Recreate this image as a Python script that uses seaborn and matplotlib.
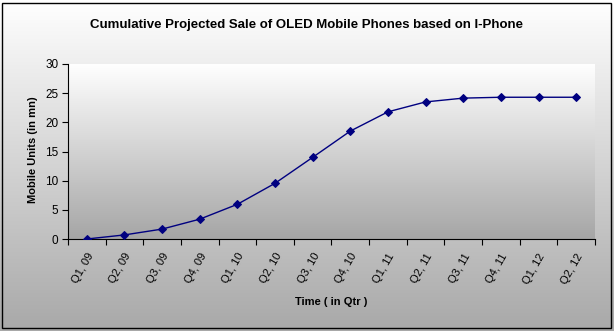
import numpy as np
import pandas as pd
import matplotlib
matplotlib.use("Agg")
import matplotlib.pyplot as plt
import seaborn as sns
from matplotlib.patches import Rectangle

quarters = ["Q1, 09", "Q2, 09", "Q3, 09", "Q4, 09", "Q1, 10", "Q2, 10", "Q3, 10",
            "Q4, 10", "Q1, 11", "Q2, 11", "Q3, 11", "Q4, 11", "Q1, 12", "Q2, 12"]
units = [0.0, 0.7, 1.7, 3.4, 5.95, 9.55, 14.0, 18.5, 21.8, 23.5, 24.15, 24.3, 24.3, 24.3]
yticks = [0, 5, 10, 15, 20, 25, 30]

title = "Cumulative Projected Sale of OLED Mobile Phones based on I-Phone"
xlabel = "Time ( in Qtr )"
ylabel = "Mobile Units (in mn)"

sns.set_theme(style="white")
plt.rcParams['font.family'] = ['Liberation Sans', 'DejaVu Sans']
plt.rcParams['text.color'] = 'black'
plt.rcParams['xtick.color'] = 'black'
plt.rcParams['ytick.color'] = 'black'
plt.rcParams['xtick.labelcolor'] = 'black'
plt.rcParams['ytick.labelcolor'] = 'black'

W, H = 614, 331
fig = plt.figure(figsize=(W / 100, H / 100), dpi=100)

# figure background gradient
bg = fig.add_axes([0, 0, 1, 1], zorder=-10)
grad = np.linspace(1.0, 0.0, 256).reshape(-1, 1)
top_c, bot_c = np.array([1.0, 1.0, 1.0]), np.array([0.66, 0.66, 0.66])
img = grad[..., None] * top_c + (1 - grad[..., None]) * bot_c
bg.imshow(img, aspect='auto', extent=[0, 1, 0, 1], origin='upper')
bg.set_axis_off()

left, right, top, bottom = 68, 595, 64, 239
ax = fig.add_axes([left / W, (H - bottom) / H, (right - left) / W, (bottom - top) / H])

df = pd.DataFrame({"x": np.arange(len(quarters)), "y": units})
sns.lineplot(data=df, x="x", y="y", ax=ax, color="#000080", linewidth=1.0,
             marker="D", markersize=4, markeredgecolor="#000080", zorder=3)

# plot area gradient
top_p, bot_p = np.array([1.0, 1.0, 1.0]), np.array([0.65, 0.65, 0.65])
img2 = grad[..., None] * top_p + (1 - grad[..., None]) * bot_p
ax.imshow(img2, aspect='auto', extent=[-0.5, len(quarters) - 0.5, 0, 30],
          origin='upper', zorder=0)

ax.set_xlim(-0.5, len(quarters) - 0.5)
ax.set_ylim(0, 30)
ax.set_yticks(yticks)
ax.set_yticklabels([str(v) for v in yticks], fontsize=8.5)
ax.set_xticks(np.arange(len(quarters)))
ax.set_xticklabels(quarters, rotation=60, ha='right', rotation_mode='anchor', fontsize=8)
ax.set_xticks(np.arange(len(quarters) + 1) - 0.5, minor=True)
ax.tick_params(axis='x', which='major', length=0, pad=9)
ax.tick_params(axis='x', which='minor', length=4, width=0.8, color='black', direction='out', bottom=True)
ax.tick_params(axis='y', length=4, width=0.8, color='black', direction='out', left=True, pad=3)

for s in ['top', 'right']:
    ax.spines[s].set_visible(False)
for s in ['left', 'bottom']:
    ax.spines[s].set_color('black')
    ax.spines[s].set_linewidth(0.8)

ax.set_xlabel("")
ax.set_ylabel("")
fig.text((left + right) / 2 / W, 1 - 302 / H, xlabel, ha='center', va='center',
         fontsize=8, fontweight='bold', color='black')
fig.text(33 / W, 1 - 150 / H, ylabel, ha='center', va='center', rotation=90,
         fontsize=8, fontweight='bold', color='black')
fig.text(306.5 / W, 1 - 25 / H, title, ha='center', va='center',
         fontsize=9.5, fontweight='bold', color='black')

fig.patches.append(Rectangle((2 / W, 3 / H), (W - 5) / W, (H - 6) / H,
                             transform=fig.transFigure, fill=False,
                             edgecolor='black', linewidth=1.0))

fig.savefig("out.png", dpi=100)
